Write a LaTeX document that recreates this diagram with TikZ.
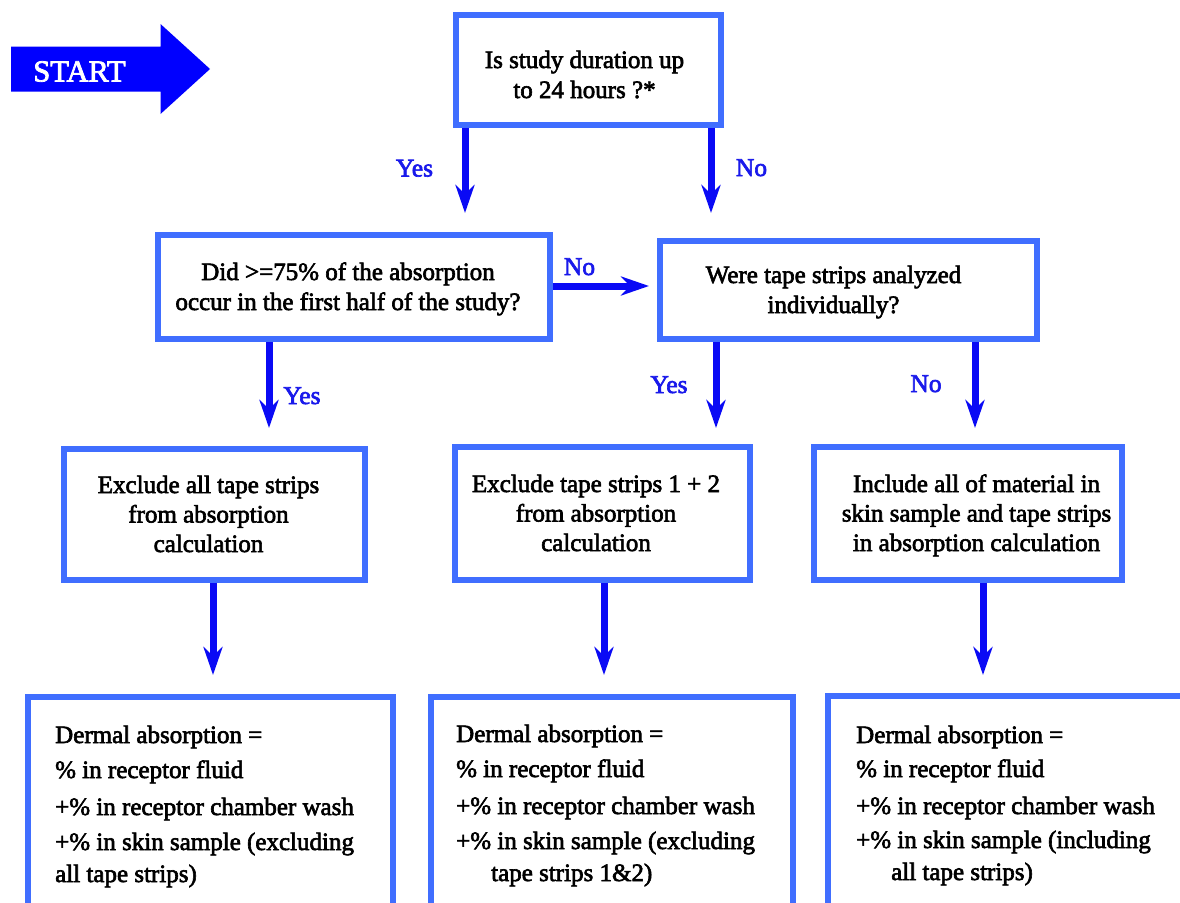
\documentclass[tikz,border=0pt]{standalone}
\usepackage{fontspec}
\setmainfont{Liberation Serif}[BoldFont=Liberation Serif, BoldFeatures={FakeBold=2.5}]
\usetikzlibrary{arrows.meta}

\definecolor{boxblue}{RGB}{64,110,255}
\definecolor{arrowblue}{RGB}{10,10,245}
\definecolor{labelblue}{RGB}{25,25,235}
\definecolor{startblue}{RGB}{0,0,255}

\tikzset{
  flowbox/.style={draw=boxblue, line width=5.5pt, rectangle, inner sep=0pt},
  flowarrow/.style={draw=arrowblue, line width=7pt,
    -{Stealth[length=28pt,width=19pt,inset=9pt]}},
  boxtext/.style={inner sep=0pt, anchor=base, font=\fontsize{25}{30}\selectfont\bfseries},
  resulttext/.style={inner sep=0pt, anchor=base west, font=\fontsize{25}{32}\selectfont\bfseries},
  yesno/.style={text=labelblue, inner sep=0pt, anchor=base, font=\fontsize{25.5}{30}\selectfont\bfseries},
}

\begin{document}
\begin{tikzpicture}[x=1pt,y=-1pt]
\useasboundingbox (0,0) rectangle (1180,902);
\clip (0,0) rectangle (1180,902);

% start marker
\fill[startblue] (11,46.5) -- (160.5,46.5) -- (160.5,24) -- (210,69)
  -- (160.5,114) -- (160.5,91.5) -- (11,91.5) -- cycle;
\node[inner sep=0pt, anchor=base, text=white, font=\fontsize{30.5}{36}\selectfont\bfseries]
  (start) at (79.5,81.5) {START};

% decision and action boxes
\node[flowbox, minimum width=265pt, minimum height=110pt] (q1) at (588.5,70) {};
\node[flowbox, minimum width=392pt, minimum height=104pt] (q2) at (354,287) {};
\node[flowbox, minimum width=377pt, minimum height=98pt]  (q3) at (848.5,290) {};
\node[flowbox, minimum width=301pt, minimum height=131pt] (a1) at (214.5,514.5) {};
\node[flowbox, minimum width=295pt, minimum height=133pt] (a2) at (602.5,513.5) {};
\node[flowbox, minimum width=308pt, minimum height=133pt] (a3) at (968,513.5) {};
\node[flowbox, minimum width=365pt, minimum height=283pt] (r1) at (210.5,838.5) {};
\node[flowbox, minimum width=362pt, minimum height=283pt] (r2) at (612,838.5) {};
\node[flowbox, minimum width=412pt, minimum height=284pt] (r3) at (1034,838) {};

% box texts
\node[boxtext] (t1) at (584.5,68) {\begin{tabular}[t]{@{}c@{}}Is study duration up\\to 24 hours ?*\end{tabular}};
\node[boxtext] (t2) at (348,280) {\begin{tabular}[t]{@{}c@{}}Did >=75\% of the absorption\\occur in the first half of the study?\end{tabular}};
\node[boxtext] (t3) at (833.5,283) {\begin{tabular}[t]{@{}c@{}}Were tape strips analyzed\\individually?\end{tabular}};
\node[boxtext, font=\fontsize{25}{29.5}\selectfont\bfseries] (t4) at (208.5,493) {\begin{tabular}[t]{@{}c@{}}Exclude all tape strips\\from absorption\\calculation\end{tabular}};
\node[boxtext, font=\fontsize{25}{29.5}\selectfont\bfseries] (t5) at (596,492) {\begin{tabular}[t]{@{}c@{}}Exclude tape strips 1 + 2\\from absorption\\calculation\end{tabular}};
\node[boxtext, font=\fontsize{25}{29.5}\selectfont\bfseries] (t6) at (976.5,492) {\begin{tabular}[t]{@{}c@{}}Include all of material in\\skin sample and tape strips\\in absorption calculation\end{tabular}};

\node[resulttext] (t7) at (55,743) {\begin{tabular}[t]{@{}l@{}}Dermal absorption =\\[3pt]
  \% in receptor fluid\\[5pt] +\% in receptor chamber wash\\[3pt]
  +\% in skin sample (excluding\\all tape strips)\end{tabular}};
\node[resulttext] (t8) at (456,742) {\begin{tabular}[t]{@{}l@{}}Dermal absorption =\\[3pt]
  \% in receptor fluid\\[5pt] +\% in receptor chamber wash\\[3pt]
  +\% in skin sample (excluding\\\hspace*{35pt}tape strips 1\&2)\end{tabular}};
\node[resulttext] (t9) at (856,743) {\begin{tabular}[t]{@{}l@{}}Dermal absorption =\\[2pt]
  \% in receptor fluid\\[5pt] +\% in receptor chamber wash\\[2pt]
  +\% in skin sample (including\\\hspace*{35pt}all tape strips)\end{tabular}};

% arrow tips
\coordinate (tipA) at (465,213);
\coordinate (tipB) at (711,213);
\coordinate (tipC) at (649,286);
\coordinate (tipD) at (269,428);
\coordinate (tipE) at (716,428);
\coordinate (tipF) at (975,428);
\coordinate (tipG) at (213,675);
\coordinate (tipH) at (604,675);
\coordinate (tipI) at (983,675);

% connectors
\draw[flowarrow] (q1.south -| tipA) -- (tipA);
\draw[flowarrow] (q1.south -| tipB) -- (tipB);
\draw[flowarrow] (q2.east |- tipC) -- (tipC);
\draw[flowarrow] (q2.south -| tipD) -- (tipD);
\draw[flowarrow] (q3.south -| tipE) -- (tipE);
\draw[flowarrow] (q3.south -| tipF) -- (tipF);
\draw[flowarrow] (a1.south -| tipG) -- (tipG);
\draw[flowarrow] (a2.south -| tipH) -- (tipH);
\draw[flowarrow] (a3.south -| tipI) -- (tipI);

% branch labels
\node[yesno] (l1) at (414.5,176.5) {Yes};
\node[yesno] (l2) at (751.5,176) {No};
\node[yesno] (l3) at (579.5,275) {No};
\node[yesno] (l4) at (302,404) {Yes};
\node[yesno] (l5) at (669,393) {Yes};
\node[yesno] (l6) at (926,392) {No};
\end{tikzpicture}
\end{document}
